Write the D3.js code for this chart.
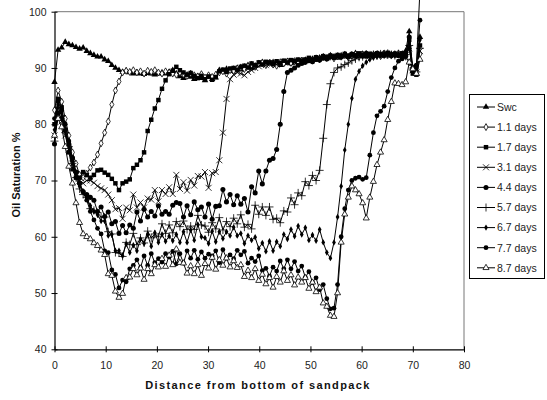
<!DOCTYPE html>
<html><head><meta charset="utf-8">
<script src="https://cdn.jsdelivr.net/npm/d3@7"></script>
<style>body{margin:0;background:#fff}svg{display:block}</style>
</head><body>
<svg id="c" width="547" height="400"></svg>
<script>
// ---- data ----
const xPos = [0,0.7,1.4,2.1,2.8,3.5,4.2,4.9,5.6,6.3,
7,7.7,8.4,9.1,9.8,10.5,11.2,11.9,12.6,13.3,
14,14.7,15.4,16.1,16.8,17.5,18.2,18.9,19.6,20.3,
21,21.7,22.4,23.1,23.8,24.5,25.2,25.9,26.6,27.3,
28,28.7,29.4,30.1,30.8,31.5,32.2,32.9,33.6,34.3,
35,35.7,36.4,37.1,37.8,38.5,39.2,39.9,40.6,41.3,
42,42.7,43.4,44.1,44.8,45.5,46.2,46.9,47.6,48.3,
49,49.7,50.4,51.1,51.8,52.5,53.2,53.9,54.6,55.3,
56,56.7,57.4,58.1,58.8,59.5,60.2,60.9,61.6,62.3,
63,63.7,64.4,65.1,65.8,66.5,67.2,67.9,68.6,69.3,
70,70.7,71.4];

const seriesNames = ["Swc","1.1 days","1.7 days","3.1 days","4.4 days","5.7 days","6.7 days","7.7 days","8.7 days"];

const swc = [87.5,93.2,93.6,94.6,94.2,94.0,93.7,93.4,93.6,93.0,
92.6,92.3,92.0,92.0,91.5,91.2,90.5,90.0,89.6,89.3,
89.5,89.2,89.0,89.2,89.0,88.9,89.1,89.0,88.8,89.0,
89.2,89.0,89.3,89.6,89.0,88.5,88.2,88.8,88.4,88.0,
88.5,88.2,87.8,88.4,88.0,88.3,89.6,89.5,89.8,89.5,
89.8,90.0,89.7,90.2,90.5,90.0,90.4,90.8,91.0,90.7,
90.8,91.0,90.6,90.5,91.0,91.2,90.8,91.0,91.3,91.2,
91.4,91.2,91.6,91.5,91.8,92.0,91.7,92.2,92.0,91.8,
92.2,92.4,92.0,92.3,92.6,92.2,92.5,92.3,92.1,92.4,
92.5,92.2,92.6,92.4,92.3,92.5,92.2,92.4,93.0,96.5,
89.5,89.0,95.5];

const d11 = [82.5,86.0,84.0,81.0,78.0,75.0,73.0,71.0,70.5,71.2,
72.3,73.2,74.6,76.6,78.5,80.5,83.5,86.0,87.6,89.2,
89.5,89.3,89.6,89.2,89.4,89.0,89.5,89.3,89.6,89.2,
89.0,89.4,89.2,89.0,88.8,89.2,88.9,88.6,89.0,88.7,
88.5,88.9,88.3,88.7,88.4,88.8,89.2,89.4,89.0,89.6,
89.5,89.9,90.1,89.8,90.3,90.6,90.2,90.7,90.9,90.5,
90.9,90.6,90.4,91.0,90.8,91.1,90.9,91.2,91.0,91.3,
91.2,91.5,91.3,91.7,91.5,91.9,91.8,92.0,91.7,92.1,
92.0,92.3,91.9,92.2,92.4,92.0,92.3,92.5,92.2,92.3,
92.4,92.1,92.5,92.3,92.2,92.4,92.6,92.2,92.0,91.0,
90.0,89.5,92.5];

const d17 = [80.0,84.5,83.0,79.0,75.0,72.0,70.5,70.5,71.5,71.0,
70.5,71.0,71.8,71.9,71.4,71.0,70.3,69.5,68.3,69.5,
69.8,70.2,72.2,72.8,73.6,75.0,78.8,80.8,82.8,84.3,
86.3,87.8,88.9,89.5,90.2,89.6,89.2,88.8,89.1,88.6,
88.2,88.6,88.0,88.5,87.9,88.4,89.4,89.7,89.3,89.9,
90.0,89.7,90.2,90.4,90.1,90.8,90.5,91.0,90.6,91.1,
91.0,90.7,91.2,90.9,91.3,91.0,91.4,91.2,91.5,91.3,
91.5,91.8,91.4,91.9,91.6,92.1,91.9,92.2,92.0,92.3,
92.1,92.5,92.0,92.4,92.2,92.6,92.3,92.1,92.5,92.2,
92.6,92.3,92.4,92.7,92.2,92.5,92.3,92.6,92.4,95.0,
89.0,88.8,94.0];

const d31 = [78.0,81.5,80.5,78.0,75.5,73.0,71.0,70.0,69.5,70.0,
70.0,69.6,69.0,68.6,68.3,67.5,66.5,64.9,65.1,63.2,
65.2,64.7,67.5,65.2,66.1,65.2,66.8,66.6,68.3,66.3,
68.3,67.6,68.8,67.6,71.0,68.5,69.7,68.2,70.1,69.1,
70.8,70.7,71.5,68.7,71.3,71.5,73.6,78.5,84.5,88.0,
88.8,89.2,89.0,88.7,89.3,89.6,90.0,90.3,90.8,90.5,
90.7,91.0,90.6,90.8,91.1,90.9,91.2,91.0,91.3,91.1,
91.4,91.3,91.6,91.5,91.8,91.7,92.0,91.9,92.1,92.0,
92.2,92.0,92.4,92.1,92.3,92.5,92.2,92.4,92.1,92.5,
92.3,92.6,92.2,92.4,92.5,92.3,92.5,92.2,92.6,93.5,
89.6,89.2,93.0];

const d44 = [76.5,82.0,81.0,79.0,76.5,74.0,71.5,69.5,68.0,67.5,
67.0,66.5,64.5,65.3,63.6,64.4,62.3,62.7,60.6,62.0,
60.7,62.1,61.5,64.4,62.8,64.9,63.5,64.5,63.7,65.5,
64.0,64.5,64.0,65.6,66.1,65.9,63.5,65.5,63.9,66.2,
64.8,65.3,63.5,65.8,63.1,65.4,65.5,68.4,66.2,67.5,
65.7,67.3,65.8,66.8,64.4,68.9,67.8,71.7,69.4,71.7,
73.6,73.9,75.5,80.0,85.8,89.2,89.6,90.0,90.5,90.8,
91.0,91.3,91.1,91.5,91.4,91.8,91.6,92.0,91.8,92.1,
92.0,92.3,92.1,92.5,92.2,92.4,92.1,92.6,92.3,92.2,
92.4,92.5,92.2,92.6,92.3,92.4,92.2,92.5,92.4,95.5,
90.0,90.5,104.0];

const d57 = [77.0,83.0,81.5,78.5,76.0,73.0,70.5,68.5,67.5,67.0,
65.0,64.7,64.3,63.5,63.5,60.9,60.5,57.2,57.1,56.5,
59.0,58.6,60.6,58.6,59.8,58.9,61.0,59.8,60.5,60.0,
62.3,60.6,62.1,60.7,62.7,61.8,62.8,61.3,61.9,61.3,
63.8,62.1,61.9,60.8,62.5,61.4,63.4,61.2,62.7,61.8,
63.3,62.3,63.9,61.7,62.2,61.4,65.6,64.0,65.3,63.8,
65.3,63.1,63.3,62.5,64.6,64.4,66.9,65.7,67.8,67.3,
69.8,69.1,70.9,70.0,71.8,77.5,83.5,87.2,89.2,90.0,
90.2,90.6,90.9,91.3,91.6,91.9,92.0,92.3,92.1,92.4,
92.2,92.5,92.3,92.6,92.4,92.2,92.5,92.3,92.4,94.0,
89.8,89.3,93.5];

const d67 = [79.0,83.5,82.0,79.0,76.0,73.5,71.0,69.0,68.0,67.0,
65.5,64.5,63.9,62.8,62.8,60.2,60.4,57.5,57.5,56.6,
58.7,57.2,58.5,57.5,59.6,58.8,60.4,58.3,60.7,59.0,
60.4,59.2,60.1,59.3,60.4,59.0,60.9,59.0,61.2,59.4,
62.2,60.0,59.8,58.8,61.0,59.1,60.9,59.7,60.9,60.2,
61.7,60.2,60.6,58.8,60.2,59.4,59.9,57.9,58.9,57.4,
59.2,57.5,59.1,58.3,60.4,59.6,61.3,60.1,61.9,60.4,
61.6,59.4,60.3,59.3,61.3,59.0,57.2,56.2,59.0,63.5,
69.0,75.4,80.0,84.6,88.0,89.4,90.4,91.0,91.5,91.8,
92.0,92.2,92.4,92.3,92.5,92.2,92.4,92.3,92.5,94.5,
89.5,89.8,95.0];

const d77 = [81.0,84.0,82.5,80.0,77.0,74.0,71.5,69.5,68.0,66.5,
64.5,63.0,61.5,60.5,57.5,57.2,54.1,53.3,50.9,52.3,
52.0,54.3,54.9,55.9,54.5,56.6,54.9,57.0,55.4,56.1,
55.5,57.0,56.4,57.4,55.2,57.0,55.3,57.5,56.2,57.6,
56.0,57.3,56.2,56.9,56.6,57.5,55.4,57.7,56.2,56.8,
56.1,57.6,56.8,57.4,55.3,56.2,55.6,56.6,54.0,54.4,
53.0,54.6,53.9,55.7,54.3,55.9,54.3,55.6,53.9,54.8,
52.8,53.8,51.9,52.7,50.6,51.5,49.0,47.2,47.3,51.5,
60.0,65.0,68.3,70.0,70.4,70.6,70.2,70.5,74.5,78.5,
81.5,82.3,83.2,85.8,88.3,90.0,91.2,91.6,92.0,93.5,
89.5,90.0,98.5];

const d87 = [78.0,81.0,79.5,76.0,72.5,69.5,66.0,62.5,60.5,60.0,
59.6,58.9,58.4,57.6,56.8,53.4,53.1,50.3,49.2,49.9,
52.7,52.8,54.3,53.2,54.4,52.4,54.3,53.4,55.0,54.6,
56.1,54.7,56.7,55.0,57.8,55.4,55.3,53.5,54.8,53.4,
55.0,53.1,55.2,54.4,56.3,54.2,55.9,54.9,56.2,54.6,
55.7,54.5,55.0,52.9,54.0,52.7,54.3,52.2,53.3,51.6,
52.7,51.0,52.9,51.9,53.9,52.2,53.2,51.4,52.8,51.9,
52.7,50.8,51.9,50.2,51.0,48.2,47.6,46.0,45.8,50.0,
59.0,64.0,67.0,69.0,68.3,67.6,66.0,63.3,67.0,69.8,
72.8,75.0,77.2,80.8,84.0,87.3,87.2,87.0,87.5,91.0,
89.8,89.0,91.5];

const xTicks = [0,10,20,30,40,50,60,70,80];
const yTicks = [40,50,60,70,80,90,100];

// ---- chart ----
const svg = d3.select("#c");
const FONT = "'Liberation Sans', Arial, sans-serif";
const x = d3.scaleLinear().domain([0,80]).range([54.5,464]);
const y = d3.scaleLinear().domain([40,100]).range([349.3,11.7]);

// plot border (top/right)
svg.append("path")
  .attr("d", `M${x(0)},${y(100)}H${x(80)}V${y(40)}`)
  .attr("fill","none").attr("stroke","#777").attr("stroke-width",1);

const xAxis = svg.append("g").attr("transform",`translate(0,${y(40)})`)
  .call(d3.axisBottom(x).tickValues(xTicks).tickSize(3).tickSizeOuter(0).tickFormat(d3.format("d")));
xAxis.selectAll(".tick line").attr("y1",-3);
xAxis.selectAll("text").attr("dy","0").attr("y",20);
const yAxis = svg.append("g").attr("transform",`translate(${x(0)},0)`)
  .call(d3.axisLeft(y).tickValues(yTicks).tickSize(3).tickSizeOuter(0).tickFormat(d3.format("d")));
yAxis.selectAll(".tick line").attr("x1",3);
yAxis.selectAll("text").attr("x",-8);
svg.selectAll(".domain").attr("stroke","#000").attr("stroke-width",1.2);
svg.selectAll(".tick line").attr("stroke","#000");
svg.selectAll(".tick text").attr("font-family",FONT).attr("font-size",10.5).attr("fill","#222");

svg.append("text").attr("x",258).attr("y",389)
  .attr("text-anchor","middle").attr("font-family",FONT).attr("font-weight","bold")
  .attr("font-size",11).attr("letter-spacing","1.4px").attr("fill","#111")
  .text("Distance from bottom of sandpack");
svg.append("text").attr("transform",`translate(20,175) rotate(-90)`)
  .attr("text-anchor","middle").attr("font-family",FONT).attr("font-weight","bold")
  .attr("font-size",11).attr("fill","#111")
  .text("Oil Saturation %");

// marker shapes
const shapes = {
  triF: {d: d3.symbol(d3.symbolTriangle, 18)(), fill:"#000", stroke:"none"},
  diaO: {d: d3.symbol(d3.symbolDiamond, 14)(), fill:"#fff", stroke:"#000"},
  sqF:  {d: d3.symbol(d3.symbolSquare, 20)(), fill:"#000", stroke:"none"},
  xM:   {d: "M-3,-3L3,3M-3,3L3,-3", fill:"none", stroke:"#000"},
  cirF: {d: d3.symbol(d3.symbolCircle, 20)(), fill:"#000", stroke:"none"},
  plus: {d: "M-4,0H4M0,-4V4", fill:"none", stroke:"#000"},
  diaF: {d: d3.symbol(d3.symbolDiamond, 12)(), fill:"#000", stroke:"none"},
  cirF2:{d: d3.symbol(d3.symbolCircle, 18)(), fill:"#000", stroke:"none"},
  triO: {d: d3.symbol(d3.symbolTriangle, 16)(), fill:"#fff", stroke:"#000"}
};
const series = [
  {name: seriesNames[0], vals: swc, shape: "triF"},
  {name: seriesNames[1], vals: d11, shape: "diaO"},
  {name: seriesNames[2], vals: d17, shape: "sqF"},
  {name: seriesNames[3], vals: d31, shape: "xM"},
  {name: seriesNames[4], vals: d44, shape: "cirF"},
  {name: seriesNames[5], vals: d57, shape: "plus"},
  {name: seriesNames[6], vals: d67, shape: "diaF"},
  {name: seriesNames[7], vals: d77, shape: "cirF2"},
  {name: seriesNames[8], vals: d87, shape: "triO"}
];
const line = d3.line().x((d,i)=>x(xPos[i])).y(d=>y(d));

series.forEach(s => {
  const g = svg.append("g");
  const sh = shapes[s.shape];
  g.append("path").attr("d", line(s.vals)).attr("fill","none").attr("stroke","#000").attr("stroke-width",1);
  g.selectAll("path.m").data(s.vals).join("path").attr("class","m")
    .attr("transform",(d,i)=>`translate(${x(xPos[i])},${y(d)})`)
    .attr("d", sh.d).attr("fill", sh.fill).attr("stroke", sh.stroke).attr("stroke-width",0.8);
});

// legend
const lg = svg.append("g");
lg.append("rect").attr("x",469.5).attr("y",94.5).attr("width",75).attr("height",184)
  .attr("fill","#fff").attr("stroke","#000").attr("stroke-width",1);
series.forEach((s,i) => {
  const yy = 107 + i*20.1;
  const sh = shapes[s.shape];
  lg.append("line").attr("x1",477).attr("x2",495).attr("y1",yy).attr("y2",yy).attr("stroke","#000");
  lg.append("path").attr("transform",`translate(486,${yy})`).attr("d",sh.d)
    .attr("fill",sh.fill).attr("stroke",sh.stroke).attr("stroke-width",0.8);
  lg.append("text").attr("x",497).attr("y",yy+3.8).attr("font-family",FONT).attr("font-size",10.5)
    .attr("fill","#222").text(s.name);
});
</script>
</body></html>
